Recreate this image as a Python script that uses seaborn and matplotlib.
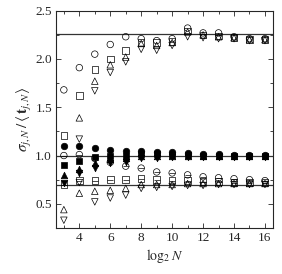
#!/usr/bin/env python3

import matplotlib
matplotlib.use("Agg")
import matplotlib.pyplot as plt
import numpy as np
import pandas as pd
import seaborn as sns
from matplotlib.ticker import MultipleLocator, FormatStrFormatter

log2n = list(range(3, 17))

# upper group (open markers), converges to ~2.25
up_circle = [1.68, 1.91, 2.05, 2.15, 2.23, 2.21, 2.19, 2.21, 2.32, 2.27, 2.27, 2.23, 2.21, 2.21]
up_square = [1.21, 1.62, 1.89, 2.00, 2.09, 2.17, 2.17, 2.18, 2.29, 2.25, 2.24, 2.22, 2.20, 2.20]
up_tri_up = [np.nan, 1.39, 1.77, 1.94, 2.02, 2.16, 2.14, 2.17, 2.28, 2.25, 2.23, 2.22, 2.20, 2.20]
up_tri_dn = [np.nan, 1.17, 1.67, 1.86, 1.97, 2.10, 2.09, 2.14, 2.23, 2.22, 2.21, 2.21, 2.19, 2.19]

# middle group (filled markers), converges to 1.0
mid_circle = [1.10, 1.10, 1.08, 1.06, 1.05, 1.05, 1.04, 1.04, 1.03, 1.02, 1.02, 1.01, 1.01, 1.01]
mid_square = [0.90, 0.94, 0.98, 1.00, 1.00, 1.02, 1.02, 1.01, 1.01, 1.00, 1.00, 1.00, 1.00, 1.00]
mid_tri_up = [0.80, 0.86, 0.92, 0.96, 0.97, 1.00, 1.00, 1.00, 1.00, 1.00, 1.00, 1.00, 1.00, 1.00]
mid_tri_dn = [0.72, 0.82, 0.87, 0.92, 0.93, 0.97, 0.97, 0.98, 0.98, 0.98, 0.99, 0.99, 0.99, 0.99]

# lower group (open markers), converges to ~0.69
low_circle = [1.00, 1.01, 0.97, 0.93, 0.89, 0.87, 0.83, 0.82, 0.80, 0.78, 0.77, 0.76, 0.75, 0.74]
low_square = [0.70, 0.74, 0.74, 0.75, 0.75, 0.76, 0.75, 0.74, 0.74, 0.73, 0.73, 0.72, 0.72, 0.72]
low_tri_up = [0.44, 0.61, 0.63, 0.64, 0.66, 0.70, 0.70, 0.70, 0.71, 0.71, 0.71, 0.71, 0.71, 0.71]
low_tri_dn = [0.33, 0.72, 0.52, 0.56, 0.59, 0.66, 0.67, 0.68, 0.69, 0.69, 0.70, 0.70, 0.70, 0.70]

ref_lines = [2.255, 1.0, 0.69]

sns.set_style("ticks")
plt.rcParams["font.family"] = ["Liberation Serif", "DejaVu Serif"]
plt.rcParams["mathtext.fontset"] = "stix"

fig = plt.figure(figsize=(2.82, 2.74), dpi=100)
ax = fig.add_axes([0.199, 0.168, 0.768, 0.793])

for yv in ref_lines:
    ax.axhline(yv, color="#333333", lw=0.9, zorder=1)

series = [
    (up_circle, "o", False), (up_square, "s", False),
    (up_tri_up, "^", False), (up_tri_dn, "v", False),
    (mid_circle, "o", True), (mid_square, "s", True),
    (mid_tri_up, "^", True), (mid_tri_dn, "v", True),
    (low_circle, "o", False), (low_square, "s", False),
    (low_tri_up, "^", False), (low_tri_dn, "v", False),
]

for vals, mk, filled in series:
    df = pd.DataFrame({"x": log2n, "y": vals}).dropna()
    sns.scatterplot(
        data=df, x="x", y="y", ax=ax, marker=mk, s=22,
        facecolors="black" if filled else "none",
        edgecolor="black", linewidth=0.5, zorder=3,
    )

# bar inside the lower circles and squares
for vals in (low_circle, low_square):
    df = pd.DataFrame({"x": log2n, "y": vals}).dropna()
    sns.scatterplot(data=df, x="x", y="y", ax=ax, marker="_", s=14,
                    color="black", linewidth=0.5, zorder=3)

ax.set_xlim(2.5, 16.5)
ax.set_ylim(0.25, 2.5)
ax.xaxis.set_major_locator(MultipleLocator(2))
ax.xaxis.set_minor_locator(MultipleLocator(1))
ax.yaxis.set_major_locator(MultipleLocator(0.5))
ax.yaxis.set_minor_locator(MultipleLocator(0.25))
ax.yaxis.set_major_formatter(FormatStrFormatter("%.1f"))
ax.tick_params(which="both", direction="in", top=True, right=True,
               labelsize=9.5, width=0.6, pad=3)
ax.tick_params(which="major", length=3.5)
ax.tick_params(which="minor", length=2)
for sp in ax.spines.values():
    sp.set_linewidth(0.8)

ax.set_xlabel(r"$\log_2 N$", fontsize=10, labelpad=2)
ax.set_ylabel(r"$\sigma_{j,N}\,/\,\langle\,\mathbf{t}_{j,N}\rangle$", fontsize=11, labelpad=1)

fig.savefig("out.png", dpi=100)
